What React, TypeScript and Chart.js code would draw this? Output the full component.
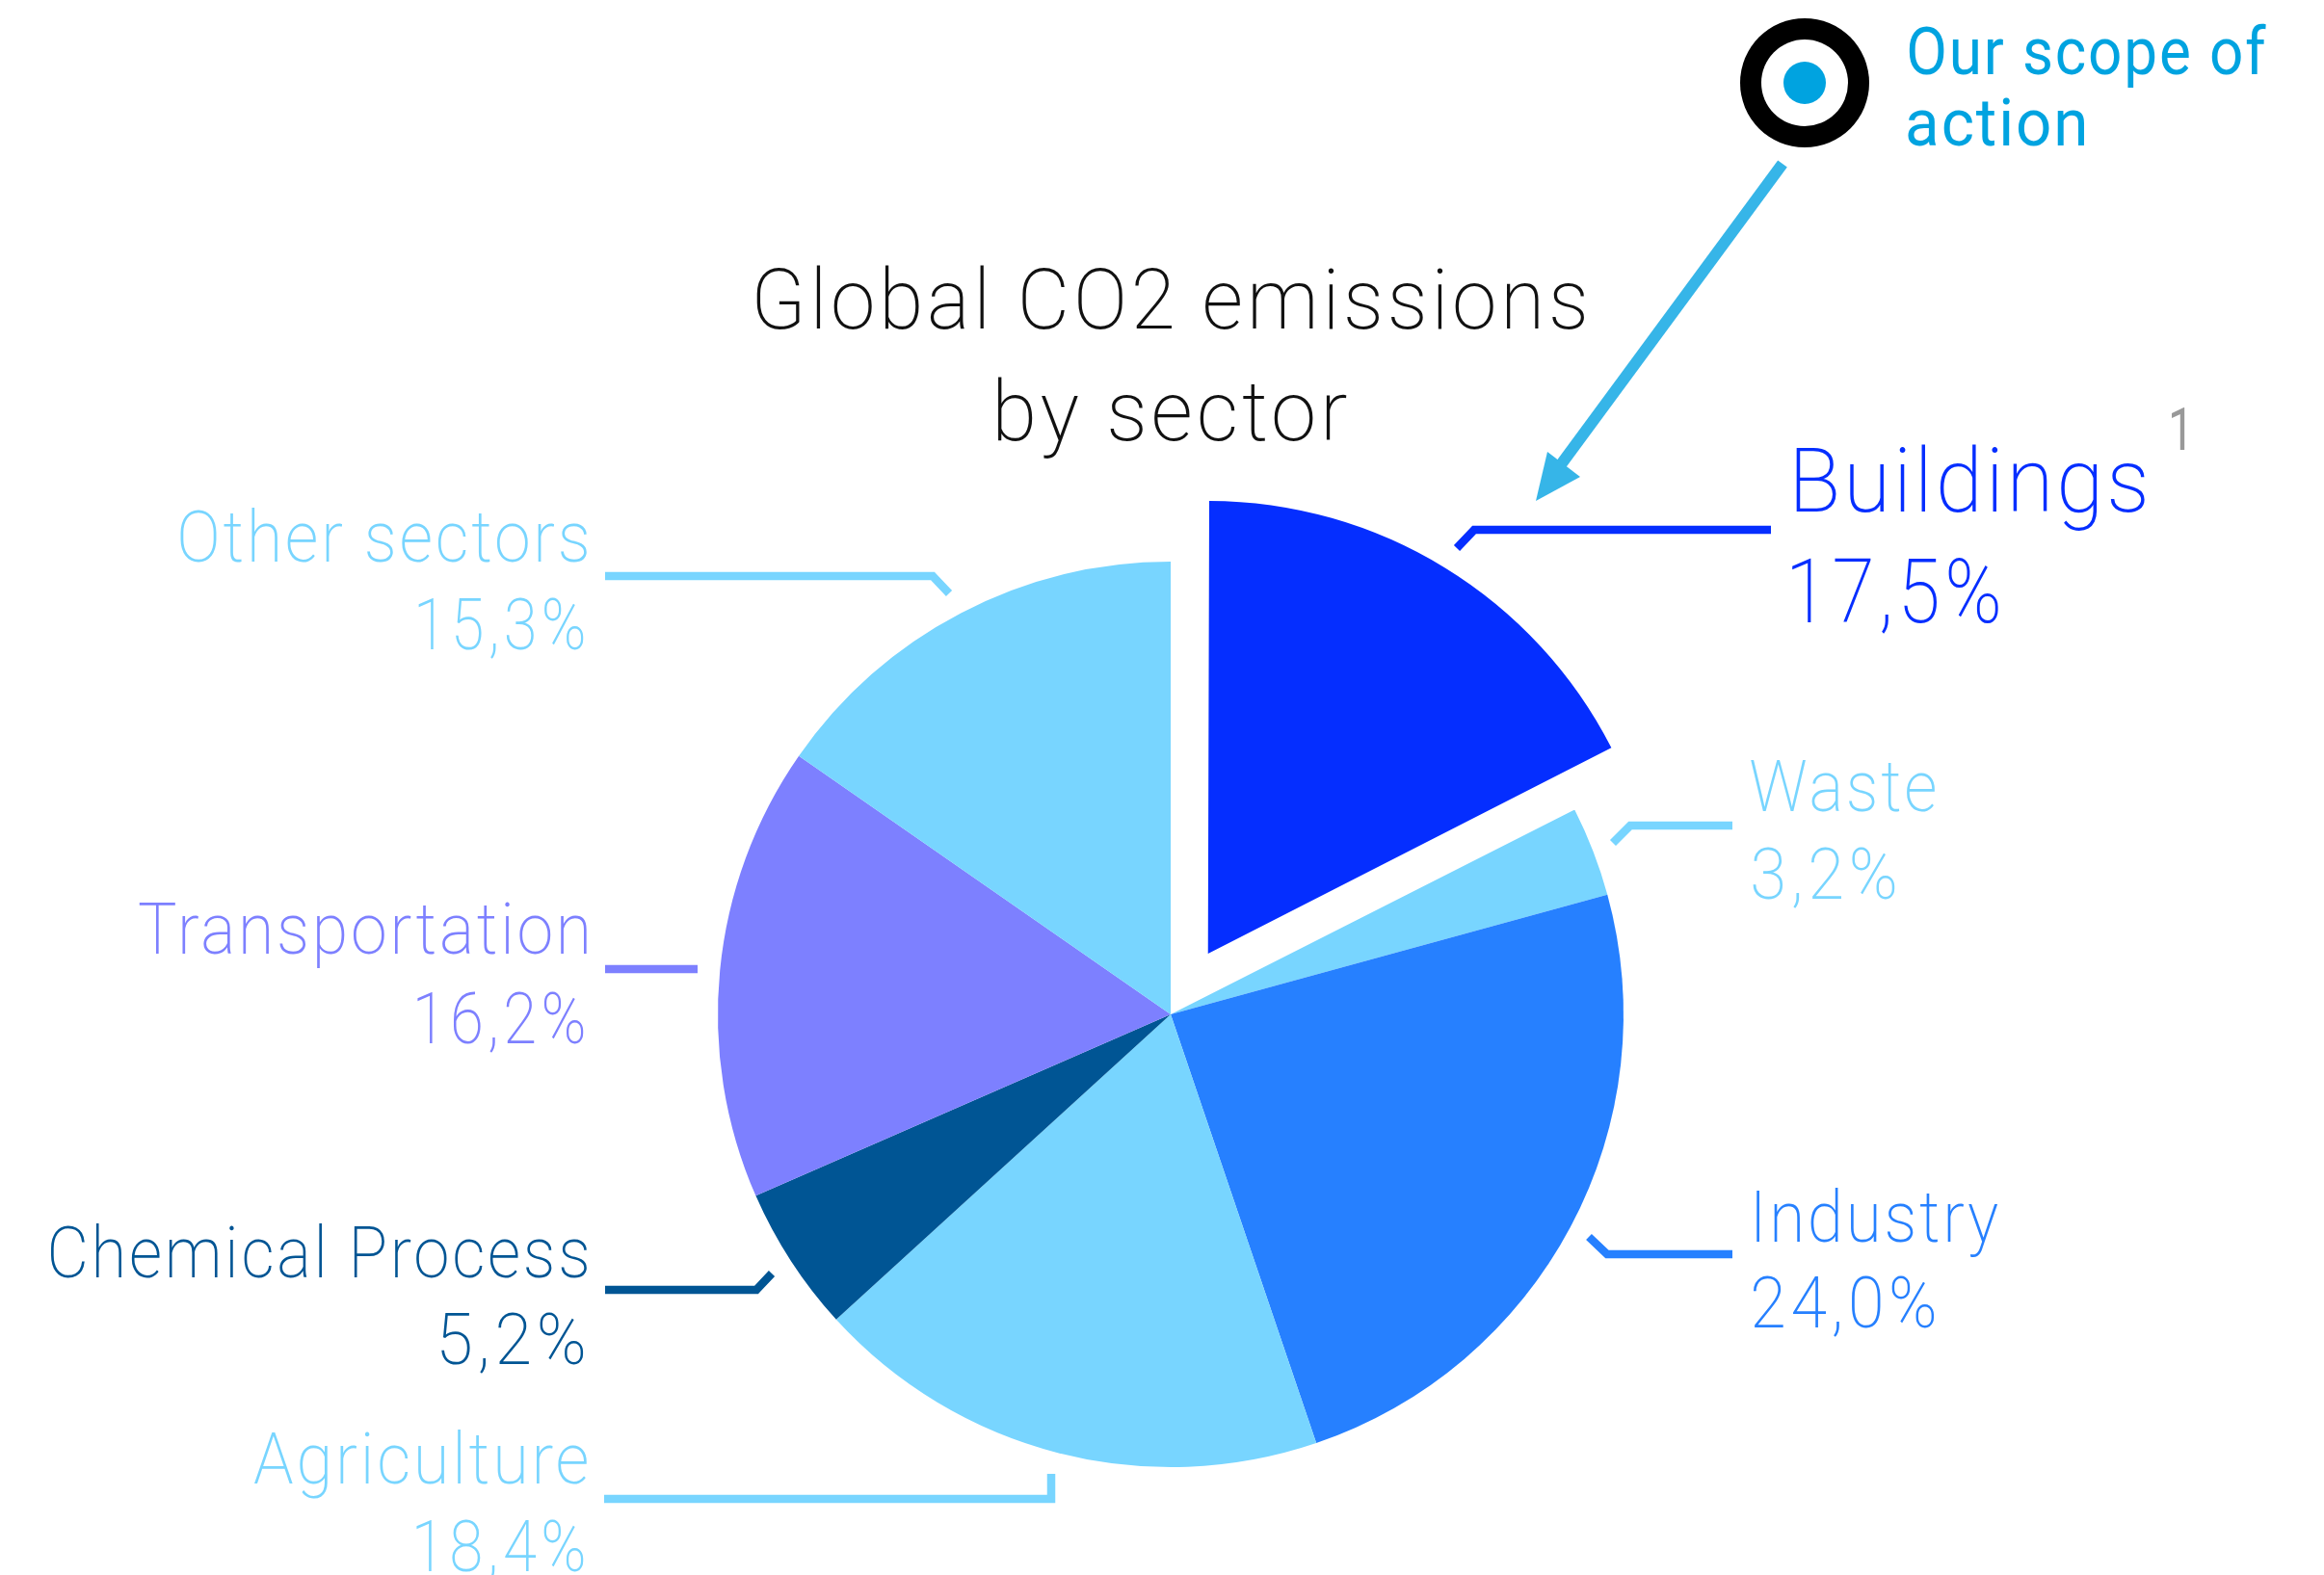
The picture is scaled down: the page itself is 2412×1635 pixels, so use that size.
import React, { useEffect, useRef } from "react";
import { Chart, registerables } from "chart.js";

Chart.register(...registerables);

const categories = ["Buildings", "Waste", "Industry", "Agriculture", "Chemical Process", "Transportation", "Other sectors"];
const shares = [17.5, 3.2, 24.0, 18.4, 5.2, 16.2, 15.3];
const sliceColors = ["#052EFF", "#78D5FF", "#2680FF", "#78D5FF", "#005594", "#7D80FF", "#78D5FF"];
const sliceOffsets = [296, 0, 0, 0, 0, 0, 0];
const titleLines = ["Global CO2 emissions", "by sector"];
const scopeLines = ["Our scope of", "action"];

const W = 2412;
const H = 1635;
const CX = 1215;
const CY = 1053;
const R = 470;
const EXPLODED_R = 462;

type Box = { l: number; r: number; b1: number; b2: number; l2: number; r2: number; size: number };
const labelBoxes: Box[] = [
  { l: 1864, r: 2226, b1: 531, l2: 1860, r2: 2074, b2: 646, size: 92 },
  { l: 1817, r: 2008, b1: 842, l2: 1819, r2: 1967, b2: 933, size: 74 },
  { l: 1823, r: 2074, b1: 1289, l2: 1820, r2: 2008, b2: 1378, size: 74 },
  { l: 264, r: 609, b1: 1540, l2: 432, r2: 606, b2: 1631, size: 74 },
  { l: 53, r: 609, b1: 1326, l2: 458, r2: 606, b2: 1416, size: 74 },
  { l: 144, r: 609, b1: 990, l2: 433, r2: 606, b2: 1083, size: 74 },
  { l: 187, r: 609, b1: 583, l2: 434, r2: 606, b2: 674, size: 74 },
];
const leaders: number[][][] = [
  [[1838, 550], [1530, 550], [1512, 569]],
  [[1798, 857], [1692, 857], [1674, 875]],
  [[1798, 1302], [1668, 1302], [1649, 1284]],
  [[627, 1556], [1091, 1556], [1091, 1530]],
  [[628, 1339], [785, 1339], [801, 1322]],
  [[628, 1006], [724, 1006]],
  [[628, 598], [968, 598], [985, 616]],
];

function fitText(ctx: CanvasRenderingContext2D, s: string, l: number, r: number, base: number, font: string, color: string, spacing = 0) {
  ctx.save();
  ctx.font = font;
  (ctx as any).letterSpacing = spacing + "px";
  ctx.fillStyle = color;
  ctx.textAlign = "left";
  ctx.textBaseline = "alphabetic";
  const m = ctx.measureText(s);
  const inkL = m.actualBoundingBoxLeft;
  const inkW = m.actualBoundingBoxRight + inkL;
  const k = (r - l) / inkW;
  ctx.translate(l, base);
  ctx.scale(k, 1);
  ctx.fillText(s, inkL, 0);
  ctx.restore();
}

const overlay = {
  id: "overlay",
  beforeDatasetsDraw(chart: Chart) {
    const arcs = chart.getDatasetMeta(0).data as any[];
    arcs.forEach((arc, i) => {
      if (sliceOffsets[i] > 0) arc.outerRadius = EXPLODED_R;
    });
  },
  afterDraw(chart: Chart) {
    const ctx = chart.ctx;
    const thin = (size: number) => `200 ${size}px Roboto`;

    fitText(ctx, titleLines[0], 785, 1644, 341, thin(88), "#111111", 4);
    fitText(ctx, titleLines[1], 1036, 1398, 457, thin(88), "#111111", 4);

    categories.forEach((name, i) => {
      const b = labelBoxes[i];
      const pct = shares[i].toFixed(1).replace(".", ",") + "%";
      fitText(ctx, name, b.l, b.r, b.b1, thin(b.size), sliceColors[i], 3);
      fitText(ctx, pct, b.l2, b.r2, b.b2, thin(b.size), sliceColors[i], 5);
      ctx.save();
      ctx.strokeStyle = sliceColors[i];
      ctx.lineWidth = 8.5;
      ctx.lineJoin = "miter";
      ctx.beginPath();
      leaders[i].forEach((p, j) => (j ? ctx.lineTo(p[0], p[1]) : ctx.moveTo(p[0], p[1])));
      ctx.stroke();
      ctx.restore();
    });

    fitText(ctx, "1", 2254, 2268, 467, "400 62px Roboto", "#999999");

    ctx.save();
    ctx.fillStyle = "#000000";
    ctx.beginPath();
    ctx.arc(1873, 86, 67, 0, Math.PI * 2);
    ctx.fill();
    ctx.fillStyle = "#FFFFFF";
    ctx.beginPath();
    ctx.arc(1873, 86, 45, 0, Math.PI * 2);
    ctx.fill();
    ctx.fillStyle = "#00A3E0";
    ctx.beginPath();
    ctx.arc(1873, 86, 22, 0, Math.PI * 2);
    ctx.fill();

    ctx.strokeStyle = "#36B5E8";
    ctx.lineWidth = 12;
    ctx.beginPath();
    ctx.moveTo(1850, 170);
    ctx.lineTo(1618, 485);
    ctx.stroke();
    ctx.fillStyle = "#36B5E8";
    ctx.beginPath();
    ctx.moveTo(1594, 520);
    ctx.lineTo(1606, 469);
    ctx.lineTo(1640, 495);
    ctx.closePath();
    ctx.fill();
    ctx.restore();

    fitText(ctx, scopeLines[0], 1981, 2352, 77, "400 68px Roboto", "#00A3E0", 2);
    fitText(ctx, scopeLines[1], 1980, 2163, 151, "400 68px Roboto", "#00A3E0", 2);
  },
};

export default function App() {
  const ref = useRef<HTMLCanvasElement>(null);
  useEffect(() => {
    const chart = new Chart(ref.current!, {
      type: "pie",
      data: {
        labels: categories,
        datasets: [{ data: shares, backgroundColor: sliceColors, offset: sliceOffsets, borderWidth: 0 }],
      },
      options: {
        animation: false,
        responsive: false,
        radius: R,
        layout: {
          padding: { left: CX * 2 - W, right: 0, top: CY - (H - CY), bottom: 0 },
        },
        plugins: { legend: { display: false }, tooltip: { enabled: false } },
      },
      plugins: [overlay],
    } as any);
    return () => chart.destroy();
  }, []);
  return (
    <div style={{ position: "fixed", left: 0, top: 0, width: W, height: H, background: "#fff" }}>
      <canvas ref={ref} width={W} height={H} style={{ display: "block", width: W, height: H }} />
    </div>
  );
}
